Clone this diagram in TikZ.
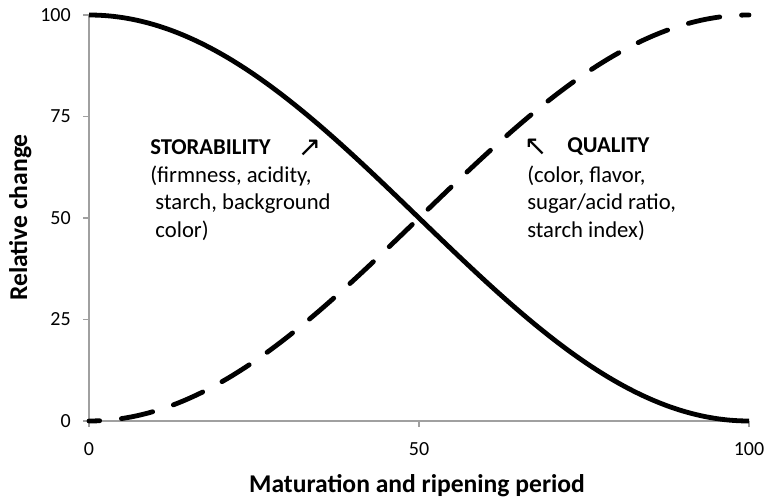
\documentclass[tikz,border=0pt]{standalone}
\usepackage{fontspec}
\setmainfont{Carlito}
\newfontfamily\symfont{DejaVu Sans}
\definecolor{axisgray}{RGB}{160,160,160}
\begin{document}
\begin{tikzpicture}[x=0.75pt,y=-0.75pt,
  axis/.style={draw=axisgray,line width=1.1pt},
  ticklab/.style={font=\fontsize{15}{18}\selectfont,inner sep=0pt},
  axtitle/.style={font=\fontsize{19.2}{23}\selectfont\bfseries,inner sep=0pt},
  lab/.style={font=\fontsize{17}{20.6}\selectfont,inner sep=0pt,align=left},
  labtitle/.style={font=\fontsize{17}{20.6}\selectfont\bfseries,inner sep=0pt},
  arr/.style={font=\symfont\fontsize{21}{24}\selectfont,inner sep=0pt},
  storcurve/.style={line width=3.6pt},
  qualcurve/.style={line width=3.6pt,line cap=round,dash pattern=on 24pt off 16.4pt,dash phase=16pt}]
\useasboundingbox (0,0) rectangle (767,499);
% axes
\coordinate (ytop) at (89,15);
\coordinate (orig) at (89,421);
\coordinate (xend) at (749,421);
\draw[axis] (ytop) -- (orig) -- (xend);
\foreach \v/\y in {100/15,75/116.5,50/218,25/319.5,0/421}{
  \coordinate (yt\v) at (89,\y);
  \coordinate (ytl\v) at (83,\y);
  \draw[axis] (ytl\v) -- (yt\v);
  \node[ticklab,anchor=east] (yl\v) at (71,\y) {\v};
}
\foreach \v/\x in {0/89,50/419,100/749}{
  \coordinate (xt\v) at (\x,421);
  \coordinate (xtl\v) at (\x,427);
  \draw[axis] (xt\v) -- (xtl\v);
  \node[ticklab] (xl\v) at (\x,449.5) {\v};
}
% curves
\draw[qualcurve] plot[domain=0:100,samples=121,smooth] ({89+6.6*\x},{421-203*(1-cos(1.8*\x))});
\draw[storcurve] plot[domain=0:100,samples=121,smooth] ({89+6.6*\x},{421-203*(1+cos(1.8*\x))});
% titles
\node[axtitle,anchor=base] (xtitle) at (417,492) {Maturation and ripening period};
\node[axtitle,rotate=90,anchor=base] (ytitle) at (27,217.5) {Relative change};
% labels
\node[labtitle,anchor=base west] (stortitle) at (150,155) {STORABILITY};
\node[arr] (storarr) at (309.5,148) {↗};
\node[lab,anchor=base west] (storbody) at (150,237) {(firmness, acidity,\\\hspace*{0.23em}starch, background\\\hspace*{0.23em}color)};
\node[arr] (qualarr) at (535.5,147) {↖};
\node[labtitle,anchor=base west] (qualtitle) at (567,153) {QUALITY};
\node[lab,anchor=base west] (qualbody) at (527,237) {(color, flavor,\\sugar/acid ratio,\\starch index)};
\end{tikzpicture}
\end{document}
